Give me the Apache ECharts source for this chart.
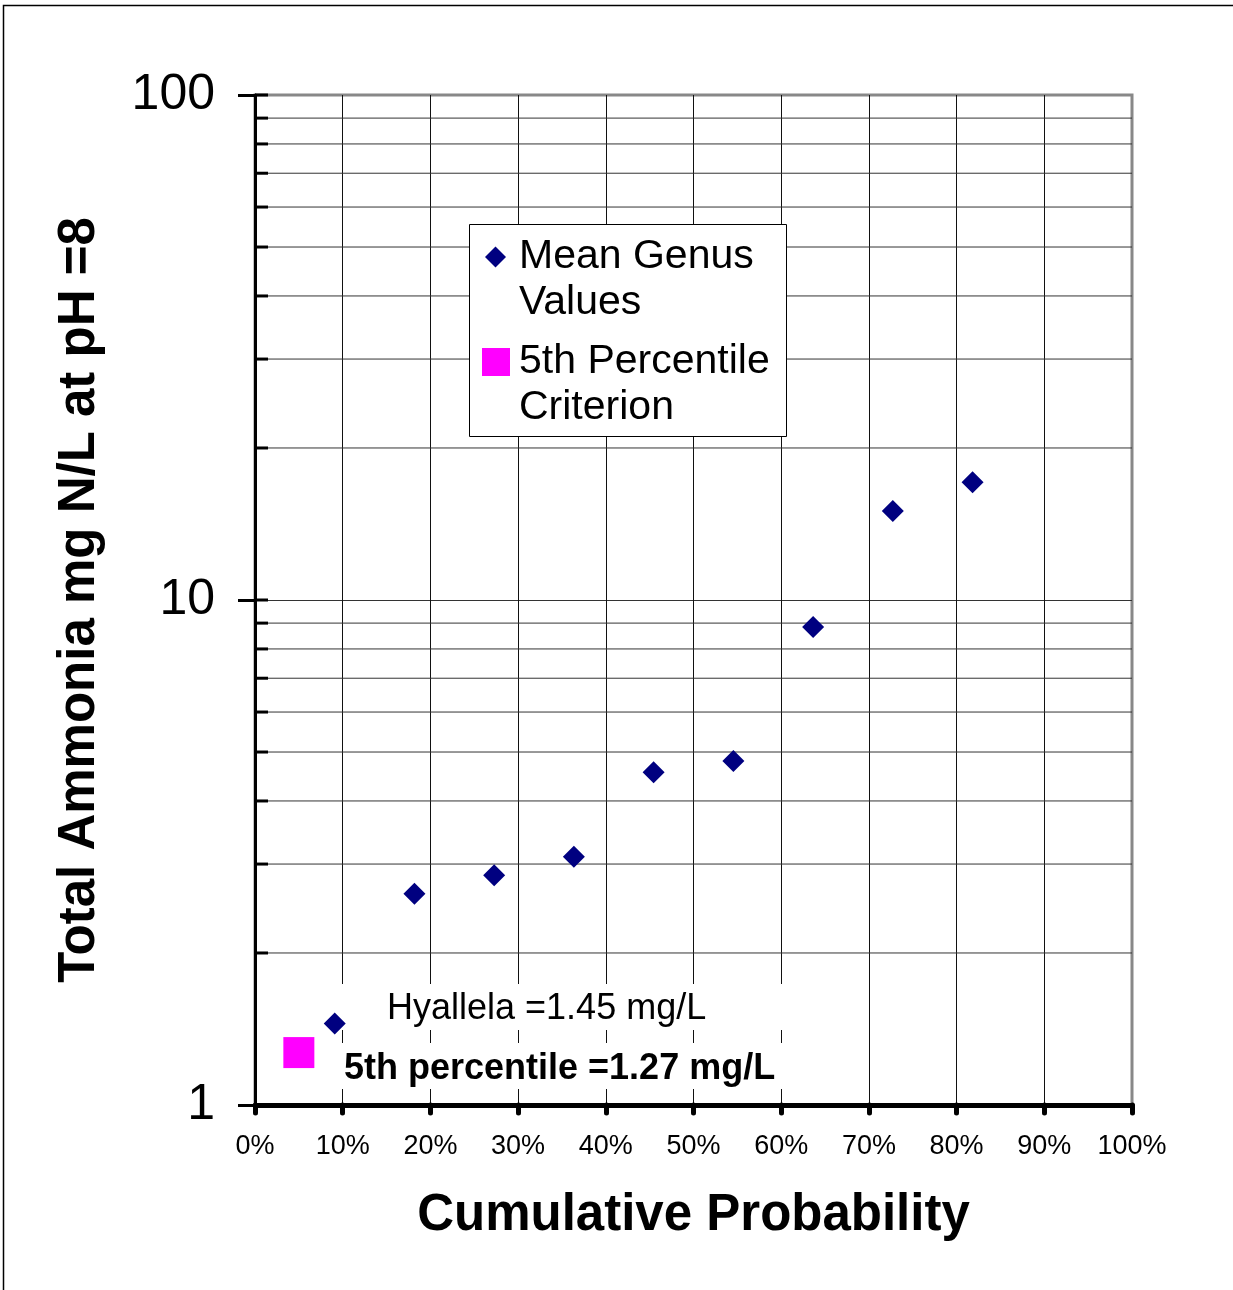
<!DOCTYPE html>
<html>
<head>
<meta charset="utf-8">
<script src="https://cdn.jsdelivr.net/npm/echarts@6/dist/echarts.min.js"></script>
<style>
  html, body { margin: 0; padding: 0; background: #fff; }
  #chart { width: 1233px; height: 1290px; }
</style>
</head>
<body>
<div id="chart"></div>
<script>
// Cumulative probability of each genus (rank / (n + 1))
const probability = [0.0909, 0.1818, 0.2727, 0.3636, 0.4545, 0.5455, 0.6364, 0.7273, 0.8182];
// Genus mean acute values, total ammonia mg N/L at pH 8
const meanGenusValues = [1.45, 2.62, 2.85, 3.10, 4.56, 4.80, 8.84, 15.0, 17.1];
// 5th percentile criterion
const criterionProbability = [0.05];
const criterionValue = [1.27];
// Minor log ticks / gridlines between decades
const yMinorTicks = [2, 3, 4, 5, 6, 7, 8, 9, 20, 30, 40, 50, 60, 70, 80, 90];
const yMajorTicks = [10, 100];

const FONT = '"Liberation Sans", Arial, Helvetica, sans-serif';
const chart = echarts.init(document.getElementById('chart'), null, { renderer: 'canvas' });

const meanSeriesName = 'Mean Genus\nValues';
const critSeriesName = '5th Percentile\nCriterion';

// a blank leading line keeps the first text line level with the legend icon
const legendText = name => '\n' + name;

const option = {
  backgroundColor: '#fff',
  animation: false,
  textStyle: { fontFamily: FONT },
  grid: {
    left: 255, right: 101, top: 95, bottom: 185,
    containLabel: false,
    outerBoundsMode: 'none',
    show: true,
    backgroundColor: '#fff',
    borderColor: '#888',
    borderWidth: 3
  },
  xAxis: {
    type: 'value',
    min: 0, max: 1, interval: 0.1,
    axisLine: { onZero: false, lineStyle: { color: '#000', width: 5 } },
    axisTick: { show: true, length: 8, lineStyle: { color: '#000', width: 5, cap: 'round' } },
    axisLabel: {
      color: '#000', fontSize: 27, fontFamily: FONT, margin: 28,
      formatter: v => Math.round(v * 100) + '%'
    },
    splitLine: { show: true, showMinLine: false, showMaxLine: false, lineStyle: { color: '#111', width: 1 } },
    name: 'Cumulative Probability',
    nameLocation: 'middle',
    nameGap: 85,
    nameTextStyle: { color: '#000', fontSize: 51, fontWeight: 'bold', fontFamily: FONT }
  },
  yAxis: {
    type: 'log',
    logBase: 10,
    min: 1, max: 100,
    axisLine: { lineStyle: { color: '#000', width: 3 } },
    axisTick: { show: true, length: 17, lineStyle: { color: '#000', width: 3 } },
    axisLabel: { color: '#000', fontSize: 50, fontFamily: FONT, margin: 40, padding: [12, 0, 0, 0] },
    splitLine: { show: true, showMinLine: false, showMaxLine: false, lineStyle: { color: '#333', width: 1 } },
    name: 'Total Ammonia mg N/L at pH =8',
    nameLocation: 'middle',
    nameRotate: 90,
    nameGap: 150,
    nameTextStyle: { color: '#000', fontSize: 51, fontWeight: 'bold', fontFamily: FONT }
  },
  legend: [
    {
      data: [{ name: meanSeriesName, icon: 'diamond' }],
      formatter: legendText,
      left: 485, top: 188, padding: 0,
      itemWidth: 21, itemHeight: 21,
      selectedMode: false,
      textStyle: { color: '#000', fontSize: 41, lineHeight: 46, fontFamily: FONT, padding: [0, 0, 0, 8] }
    },
    {
      data: [{ name: critSeriesName, icon: 'rect' }],
      formatter: legendText,
      left: 482, top: 293, padding: 0,
      itemWidth: 28, itemHeight: 28,
      selectedMode: false,
      textStyle: { color: '#000', fontSize: 41, lineHeight: 46, fontFamily: FONT, padding: [0, 0, 0, 4] }
    }
  ],
  graphic: [
    // outer chart frame
    { type: 'rect', z: 0, silent: true,
      shape: { x: 3.5, y: 5.5, width: 1300, height: 1300 },
      style: { fill: null, stroke: '#000', lineWidth: 1.5 } },
    // legend box
    { type: 'rect', z: 3, silent: true,
      shape: { x: 469.5, y: 224.5, width: 317, height: 212 },
      style: { fill: '#fff', stroke: '#000', lineWidth: 1 } },
    // annotation boxes
    { type: 'rect', z: 3, silent: true,
      shape: { x: 340, y: 984, width: 452, height: 46 },
      style: { fill: '#fff' } },
    { type: 'text', z: 3, silent: true,
      style: { x: 387, y: 1009, text: 'Hyallela =1.45 mg/L', fill: '#000',
        font: '36px ' + FONT, verticalAlign: 'middle', align: 'left' } },
    { type: 'rect', z: 3, silent: true,
      shape: { x: 340, y: 1043, width: 452, height: 46 },
      style: { fill: '#fff' } },
    { type: 'text', z: 3, silent: true,
      style: { x: 344, y: 1069, text: '5th percentile =1.27 mg/L', fill: '#000',
        font: 'bold 36px ' + FONT, verticalAlign: 'middle', align: 'left' } }
  ],
  series: [
    {
      // minor gridlines and inside ticks of the log axis
      type: 'custom',
      z: 1,
      silent: true,
      data: yMinorTicks.map(v => [v, 1]).concat(yMajorTicks.map(v => [v, 0])),
      encode: { y: 0 },
      renderItem: function (params, api) {
        const v = api.value(0);
        const isMinor = api.value(1) === 1;
        const p0 = api.coord([0, v]);
        const p1 = api.coord([1, v]);
        const children = [];
        if (isMinor) {
          children.push({
            type: 'line',
            shape: { x1: p0[0], y1: p0[1], x2: p1[0], y2: p1[1] },
            style: { stroke: '#333', lineWidth: 1 }
          });
        }
        children.push({
          type: 'line',
          shape: { x1: p0[0], y1: p0[1], x2: p0[0] + 13, y2: p0[1] },
          style: { stroke: '#000', lineWidth: 3 }
        });
        return { type: 'group', children: children };
      }
    },
    {
      name: meanSeriesName,
      type: 'scatter',
      z: 10,
      symbol: 'diamond',
      symbolSize: 22,
      itemStyle: { color: '#000080', opacity: 1 },
      data: probability.map((p, i) => [p, meanGenusValues[i]])
    },
    {
      name: critSeriesName,
      type: 'scatter',
      z: 10,
      symbol: 'rect',
      symbolSize: 31,
      itemStyle: { color: '#ff00ff', opacity: 1 },
      data: criterionProbability.map((p, i) => [p, criterionValue[i]])
    }
  ]
};

chart.setOption(option);
</script>
</body>
</html>
